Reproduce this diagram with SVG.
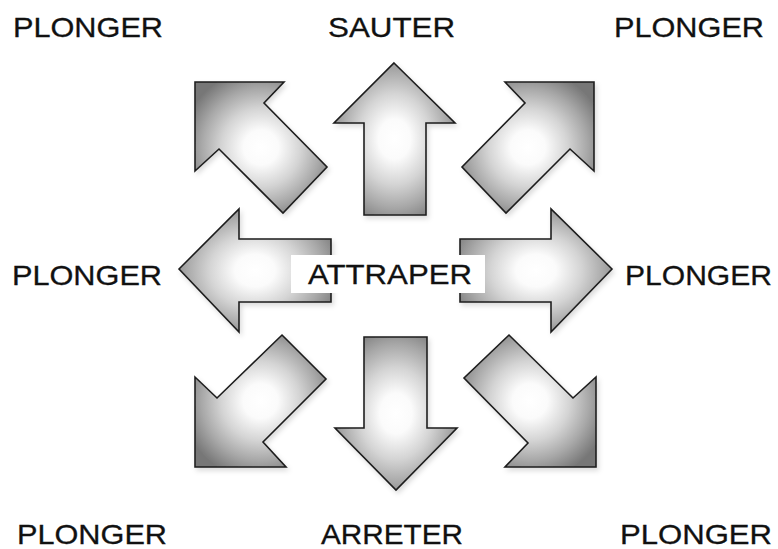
<svg xmlns="http://www.w3.org/2000/svg" width="778" height="549" viewBox="0 0 778 549">
<defs>
<radialGradient id="g" cx="0.5" cy="0.5" r="0.6">
<stop offset="0" stop-color="#ffffff"/>
<stop offset="0.22" stop-color="#fbfbfb"/>
<stop offset="0.5" stop-color="#d4d4d4"/>
<stop offset="0.75" stop-color="#a8a8a8"/>
<stop offset="1" stop-color="#777777"/>
</radialGradient>
<filter id="sh" x="-20%" y="-20%" width="140%" height="140%">
<feGaussianBlur in="SourceAlpha" stdDeviation="2.5"/>
<feOffset dx="2" dy="3" result="b"/>
<feFlood flood-color="#000" flood-opacity="0.14"/>
<feComposite in2="b" operator="in"/>
<feMerge><feMergeNode/><feMergeNode in="SourceGraphic"/></feMerge>
</filter>
</defs>
<style>
.arrow{fill:url(#g);stroke:#1e1e1e;stroke-width:1.6;stroke-linejoin:miter;filter:url(#sh)}
.lbl{font-family:"Liberation Sans",Arial,sans-serif;font-size:28px;fill:#111;stroke:#111;stroke-width:0.3}
</style>
<rect width="778" height="549" fill="#fff"/>
<g id="arrows">
<g id="arrow-up"><polygon class="arrow" points="394,63 455,123 426,123 426,215 364,215 364,123 334,123"/></g>
<g id="arrow-upleft"><polygon class="arrow" points="195,82 284,82 264,103 327,167 283,213 219,149 195,171"/></g>
<g id="arrow-upright"><polygon class="arrow" points="594,82 505,82 525,103 462,167 506,213 570,149 594,171"/></g>
<g id="arrow-left"><polygon class="arrow" points="179,269 239,209 239,239 331,239 331,302 239,302 239,332"/></g>
<g id="arrow-right"><polygon class="arrow" points="612,269 551,209 551,239 460,239 460,302 551,302 551,332"/></g>
<g id="arrow-downleft"><polygon class="arrow" points="282,335 326,379 263,442 286,467 195,467 195,377 217,398"/></g>
<g id="arrow-down"><polygon class="arrow" points="364,337 427,337 427,428 457,428 396,490 335,428 364,428"/></g>
<g id="arrow-downright"><polygon class="arrow" points="509,335 464,378 528,443 505,467 596,467 596,377 573,398"/></g>
</g>
<g id="center">
<rect x="291" y="255" width="194" height="38" fill="#fff"/>
<text class="lbl" x="308" y="284" textLength="164" lengthAdjust="spacingAndGlyphs">ATTRAPER</text>
</g>
<g id="label-top-left"><text class="lbl" x="13" y="37" textLength="150" lengthAdjust="spacingAndGlyphs">PLONGER</text></g>
<g id="label-top"><text class="lbl" x="328" y="37" textLength="127" lengthAdjust="spacingAndGlyphs">SAUTER</text></g>
<g id="label-top-right"><text class="lbl" x="614" y="37" textLength="150" lengthAdjust="spacingAndGlyphs">PLONGER</text></g>
<g id="label-left"><text class="lbl" x="12" y="285" textLength="150" lengthAdjust="spacingAndGlyphs">PLONGER</text></g>
<g id="label-right"><text class="lbl" x="625" y="285" textLength="147" lengthAdjust="spacingAndGlyphs">PLONGER</text></g>
<g id="label-bottom-left"><text class="lbl" x="17" y="544" textLength="150" lengthAdjust="spacingAndGlyphs">PLONGER</text></g>
<g id="label-bottom"><text class="lbl" x="321" y="544" textLength="142" lengthAdjust="spacingAndGlyphs">ARRETER</text></g>
<g id="label-bottom-right"><text class="lbl" x="620" y="544" textLength="152" lengthAdjust="spacingAndGlyphs">PLONGER</text></g>
</svg>
